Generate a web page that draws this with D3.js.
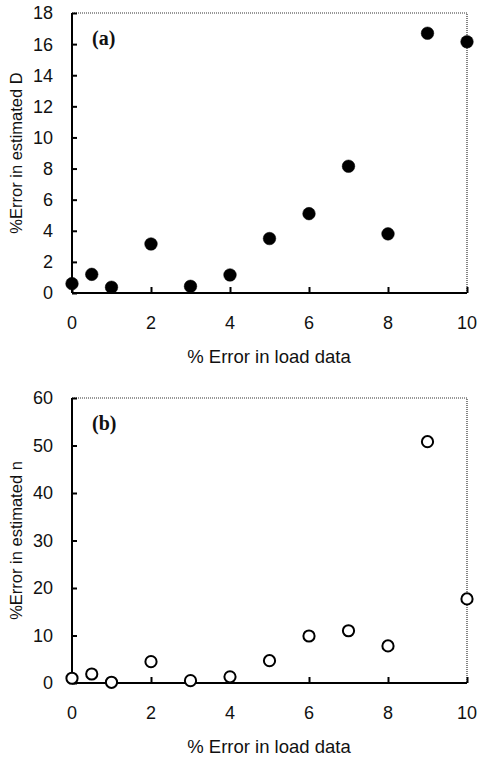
<!DOCTYPE html>
<html>
<head>
<meta charset="utf-8">
<script src="https://cdn.jsdelivr.net/npm/d3@7"></script>
<style>
  body { margin: 0; background: #fff; }
  text { font-family: "Liberation Sans", Arial, sans-serif; fill: #111; }
</style>
</head>
<body>
<svg id="chart" width="478" height="758"></svg>
<script>
const loadError = [0, 0.5, 1, 2, 3, 4, 5, 6, 7, 8, 9, 10];
const errD = [0.6, 1.2, 0.37, 3.15, 0.43, 1.16, 3.5, 5.1, 8.15, 3.8, 16.7, 16.15];
const errN = [1.0, 1.9, 0.15, 4.5, 0.5, 1.3, 4.7, 9.9, 11.0, 7.8, 50.8, 17.7];
const xTicks = [0, 2, 4, 6, 8, 10];
const yTicksA = [0, 2, 4, 6, 8, 10, 12, 14, 16, 18];
const yTicksB = [0, 10, 20, 30, 40, 50, 60];

const svg = d3.select('#chart');

const x = d3.scaleLinear().domain([0, 10]).range([72, 467]);

function panel(opt) {
  const y = d3.scaleLinear().domain([0, opt.ymax]).range([opt.bottom, opt.top]);
  const g = svg.append('g');

  // dotted frame top/right
  g.append('path')
    .attr('d', `M${x(0)},${y(opt.ymax)}H${x(10)}V${y(0)}`)
    .attr('fill', 'none')
    .attr('stroke', '#333')
    .attr('stroke-width', 1.2)
    .attr('stroke-dasharray', '1,1');

  const yAxis = g.append('g')
    .attr('transform', `translate(${x(0)},0)`)
    .call(d3.axisRight(y).tickValues(opt.yTicks).tickSize(5).tickFormat(''));
  yAxis.select('.domain').attr('stroke-width', 2).attr('d', `M0,${y(opt.ymax)}V${y(0)}`);
  yAxis.selectAll('.tick line').attr('stroke-width', 2);

  g.selectAll('.ylab').data(opt.yTicks).enter().append('text')
    .attr('x', 53)
    .attr('y', d => y(d))
    .attr('dy', '0.36em')
    .attr('text-anchor', 'end')
    .style('font-size', '18px')
    .text(d => d);

  const xAxis = g.append('g')
    .attr('transform', `translate(0,${y(0)})`)
    .call(d3.axisTop(x).tickValues(xTicks).tickSize(6).tickFormat(''));
  xAxis.select('.domain').attr('stroke-width', 2).attr('d', `M${x(0)},0H${x(10)}`);
  xAxis.selectAll('.tick line').attr('stroke-width', 2);

  g.selectAll('.xlab').data(xTicks).enter().append('text')
    .attr('x', d => x(d))
    .attr('y', y(0) + 30)
    .attr('dy', '0.36em')
    .attr('text-anchor', 'middle')
    .style('font-size', '18px')
    .text(d => d);

  g.append('text')
    .attr('x', 269)
    .attr('y', y(0) + 64)
    .attr('dy', '0.35em')
    .attr('text-anchor', 'middle')
    .style('font-size', '18.5px')
    .text('% Error in load data');

  g.append('text')
    .attr('transform', `translate(16,${(y(0) + y(opt.ymax)) / 2}) rotate(-90)`)
    .attr('dy', '0.35em')
    .attr('text-anchor', 'middle')
    .style('font-size', '16.5px')
    .text(opt.ytitle);

  g.append('text')
    .attr('x', 92)
    .attr('y', opt.top + 32)
    .style('font-family', '"Liberation Serif", "Times New Roman", serif')
    .style('font-weight', 'bold')
    .style('font-size', '20px')
    .text(opt.label);

  g.selectAll('circle').data(opt.values).enter().append('circle')
    .attr('cx', (d, i) => x(loadError[i]))
    .attr('cy', d => y(d))
    .attr('r', opt.filled ? 6.3 : 5.6)
    .attr('fill', opt.filled ? '#000' : '#fff')
    .attr('stroke', '#000')
    .attr('stroke-width', opt.filled ? 0.5 : 2);
}

panel({ top: 13, bottom: 293, ymax: 18, yTicks: yTicksA, values: errD, filled: true,
        label: '(a)', ytitle: '%Error in estimated D' });
panel({ top: 398, bottom: 683, ymax: 60, yTicks: yTicksB, values: errN, filled: false,
        label: '(b)', ytitle: '%Error in estimated n' });
</script>
</body>
</html>
